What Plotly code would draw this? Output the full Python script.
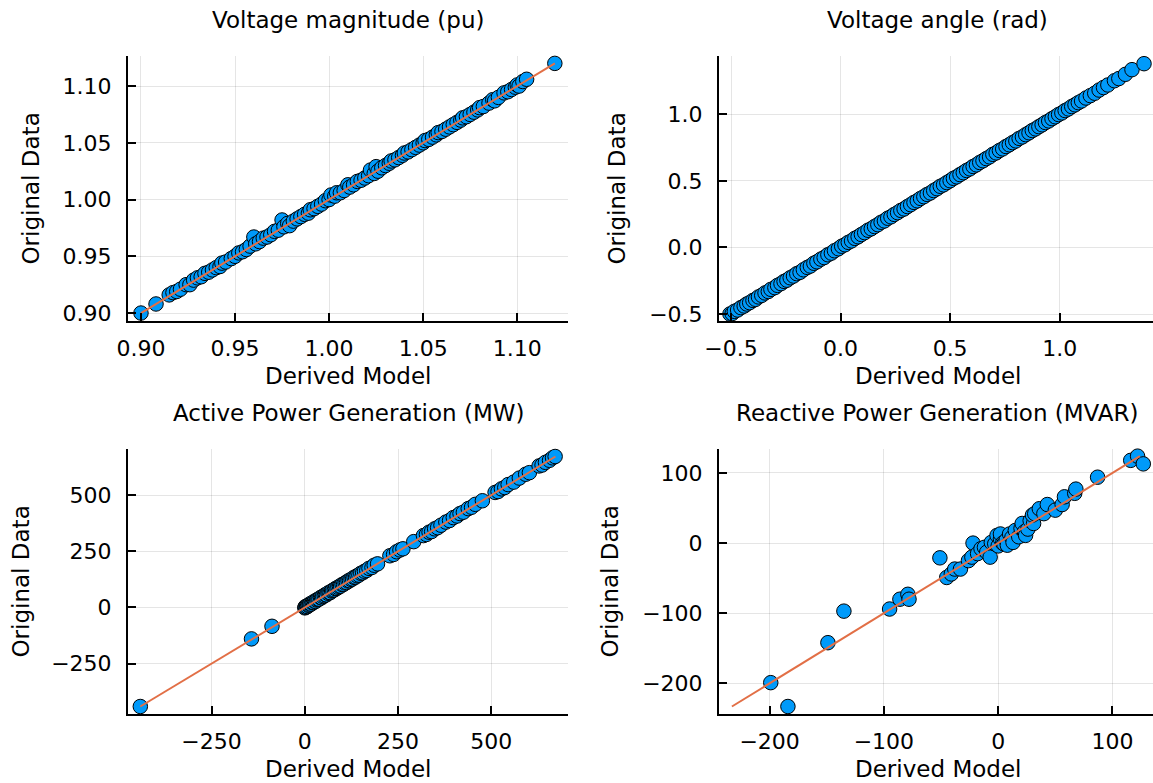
import plotly.graph_objects as go

# ---------------- data ----------------
vm_derived = [0.900, 0.908, 0.915, 0.917, 0.919, 0.921, 0.924, 0.926, 0.928, 0.930,
              0.932, 0.934, 0.936, 0.938, 0.940, 0.942, 0.943, 0.945, 0.948, 0.950,
              0.952, 0.954, 0.956, 0.958, 0.960, 0.961, 0.963, 0.965, 0.967, 0.969,
              0.971, 0.973, 0.975, 0.976, 0.978, 0.979, 0.981, 0.983, 0.985, 0.987,
              0.989, 0.990, 0.992, 0.994, 0.996, 0.998, 1.000, 1.001, 1.003, 1.004,
              1.006, 1.008, 1.010, 1.011, 1.013, 1.015, 1.017, 1.019, 1.021, 1.022,
              1.024, 1.025, 1.026, 1.028, 1.030, 1.032, 1.033, 1.035, 1.037, 1.039,
              1.040, 1.042, 1.044, 1.046, 1.048, 1.050, 1.051, 1.053, 1.055, 1.057,
              1.058, 1.060, 1.062, 1.064, 1.066, 1.068, 1.070, 1.071, 1.073, 1.075,
              1.077, 1.079, 1.080, 1.082, 1.085, 1.087, 1.088, 1.090, 1.093, 1.095,
              1.097, 1.099, 1.100, 1.101, 1.103, 1.105, 1.120]
vm_original = [0.900, 0.908, 0.916, 0.918, 0.919, 0.921, 0.925, 0.925, 0.929, 0.931,
               0.932, 0.935, 0.936, 0.938, 0.940, 0.941, 0.944, 0.945, 0.948, 0.950,
               0.953, 0.954, 0.956, 0.959, 0.967, 0.961, 0.963, 0.966, 0.967, 0.969,
               0.972, 0.973, 0.982, 0.976, 0.979, 0.977, 0.981, 0.983, 0.985, 0.987,
               0.988, 0.991, 0.992, 0.994, 0.996, 0.999, 1.000, 1.004, 1.003, 1.006,
               1.006, 1.008, 1.013, 1.011, 1.013, 1.016, 1.017, 1.019, 1.021, 1.026,
               1.023, 1.029, 1.025, 1.028, 1.030, 1.032, 1.034, 1.035, 1.037, 1.039,
               1.041, 1.042, 1.044, 1.046, 1.048, 1.050, 1.052, 1.053, 1.055, 1.057,
               1.059, 1.060, 1.062, 1.064, 1.066, 1.068, 1.070, 1.072, 1.073, 1.075,
               1.077, 1.079, 1.081, 1.082, 1.085, 1.088, 1.087, 1.090, 1.094, 1.095,
               1.097, 1.099, 1.101, 1.100, 1.104, 1.106, 1.120]

va_derived = [-0.505, -0.495, -0.485, -0.470, -0.455, -0.440, -0.428, -0.415, -0.400, -0.388,
              -0.375, -0.360, -0.345, -0.330, -0.318, -0.300, -0.288, -0.272, -0.258, -0.245,
              -0.230, -0.215, -0.200, -0.185, -0.170, -0.152, -0.138, -0.122, -0.108, -0.090,
              -0.075, -0.058, -0.042, -0.028, -0.010, 0.005, 0.020, 0.035, 0.050, 0.065,
              0.080, 0.095, 0.110, 0.125, 0.140, 0.155, 0.170, 0.185, 0.200, 0.215,
              0.230, 0.245, 0.260, 0.275, 0.290, 0.305, 0.320, 0.335, 0.350, 0.365,
              0.380, 0.395, 0.410, 0.425, 0.440, 0.455, 0.470, 0.485, 0.500, 0.515,
              0.530, 0.545, 0.560, 0.575, 0.590, 0.605, 0.620, 0.635, 0.650, 0.665,
              0.680, 0.695, 0.710, 0.725, 0.740, 0.755, 0.770, 0.785, 0.800, 0.815,
              0.830, 0.845, 0.860, 0.875, 0.890, 0.905, 0.920, 0.935, 0.950, 0.965,
              0.980, 0.995, 1.010, 1.025, 1.040, 1.055, 1.070, 1.085, 1.100, 1.120,
              1.140, 1.160, 1.180, 1.200, 1.220, 1.250, 1.270, 1.300, 1.330, 1.385]
va_original = [-0.500, -0.497, -0.480, -0.470, -0.452, -0.440, -0.425, -0.415, -0.398, -0.390,
               -0.372, -0.360, -0.342, -0.331, -0.315, -0.302, -0.285, -0.272, -0.255, -0.246,
               -0.228, -0.215, -0.197, -0.187, -0.168, -0.150, -0.140, -0.119, -0.108, -0.088,
               -0.076, -0.055, -0.043, -0.025, -0.010, 0.009, 0.020, 0.038, 0.049, 0.068,
               0.080, 0.097, 0.111, 0.129, 0.140, 0.157, 0.171, 0.189, 0.199, 0.219,
               0.230, 0.248, 0.261, 0.278, 0.289, 0.307, 0.321, 0.338, 0.350, 0.368,
               0.381, 0.398, 0.409, 0.427, 0.441, 0.459, 0.470, 0.487, 0.501, 0.519,
               0.530, 0.547, 0.561, 0.578, 0.590, 0.608, 0.620, 0.638, 0.651, 0.667,
               0.680, 0.699, 0.710, 0.728, 0.740, 0.758, 0.771, 0.787, 0.800, 0.819,
               0.830, 0.847, 0.861, 0.878, 0.890, 0.907, 0.921, 0.938, 0.950, 0.967,
               0.981, 0.998, 1.010, 1.028, 1.040, 1.058, 1.071, 1.087, 1.100, 1.122,
               1.140, 1.158, 1.182, 1.201, 1.220, 1.252, 1.268, 1.300, 1.335, 1.380]

pg_derived = [-441, -143, -88, 0, 1, 3, 5, 7, 9, 12, 14, 17, 20, 23, 26, 29, 32, 35, 38, 42,
              45, 48, 52, 55, 58, 62, 65, 68, 72, 75, 79, 82, 86, 89, 93, 96, 100, 104, 108, 112,
              116, 120, 124, 128, 132, 136, 140, 145, 150, 155, 160, 166, 172, 180, 186, 195,
              228, 238, 246, 255, 263, 292, 318, 326, 333, 340, 348, 356, 365, 378, 388, 398,
              408, 416, 425, 438, 447, 457, 476, 510, 518, 527, 536, 545, 560, 575, 592, 602,
              628, 636, 645, 656, 664, 671]
pg_original = [-441, -140, -84, -2, 3, 1, 6, 4, 10, 11, 16, 15, 21, 22, 28, 27, 33, 36, 37, 44,
               43, 49, 52, 57, 56, 63, 67, 66, 73, 76, 78, 84, 85, 90, 94, 95, 102, 103, 109, 111,
               118, 119, 125, 127, 134, 135, 141, 144, 152, 154, 161, 165, 174, 178, 188, 194,
               230, 236, 248, 256, 261, 293, 320, 325, 335, 338, 350, 355, 366, 380, 387, 400,
               407, 418, 424, 440, 446, 459, 475, 512, 516, 528, 534, 547, 558, 576, 593, 600,
               630, 634, 646, 655, 666, 672]

qg_derived = [-199, -184, -149, -135, -95, -86, -79, -78, -51, -45, -41, -38, -33, -26, -22,
              -23, -18, -15, -12, -10, -7, -6, -3, -1, 0, 2, 2, 4, 5, 7, 8, 10, 12, 13, 15,
              18, 20, 21, 23, 24, 26, 28, 31, 30, 32, 36, 40, 43, 50, 56, 58, 67, 68, 87,
              116, 122, 127]
qg_original = [-199, -233, -142, -97, -94, -80, -73, -80, -21, -49, -44, -37, -37, -25, 0,
               -20, -15, -8, -6, -13, -20, 1, -1, 11, -4, 6, 13, 0, -1, 4, -3, 13, 8, 1, 18,
               9, 21, 28, 16, 11, 20, 32, 28, 40, 42, 49, 42, 55, 47, 55, 66, 71, 77, 94,
               118, 124, 113]

titles = ["Voltage magnitude (pu)", "Voltage angle (rad)",
          "Active Power Generation (MW)", "Reactive Power Generation (MVAR)"]
x_label = "Derived Model"
y_label = "Original Data"

vm_ticks = [0.90, 0.95, 1.00, 1.05, 1.10]
vm_ticktext = ["0.90", "0.95", "1.00", "1.05", "1.10"]
va_ticks = [-0.5, 0.0, 0.5, 1.0]
va_ticktext = ["\u22120.5", "0.0", "0.5", "1.0"]
pg_ticks = [-250, 0, 250, 500]
pg_ticktext = ["\u2212250", "0", "250", "500"]
qg_ticks = [-200, -100, 0, 100]
qg_ticktext = ["\u2212200", "\u2212100", "0", "100"]

# ---------------- styling / layout ----------------
W, H = 1153, 783
BLUE = "#009AFA"
ORANGE = "#E26F46"
FONT = "DejaVu Sans"
TICK_SIZE = 22
TEXT_SIZE = 23

# plot-area pixel boxes (left, right, top, bottom)
boxes = [(128, 568, 56, 321), (719, 1153, 56, 321),
         (128, 568, 449, 714), (719, 1153, 449, 714)]
xranges = [[0.8931, 1.127], [-0.555, 1.426], [-474, 705.5], [-244.3, 135.5]]
yranges = [[0.893, 1.1265], [-0.5526, 1.4377], [-474.4, 705.4], [-243.7, 134.2]]
ylabel_x = [31, 617, 20, 609]

panels = [
    (vm_derived, vm_original, True, vm_ticks, vm_ticktext),
    (va_derived, va_original, False, va_ticks, va_ticktext),
    (pg_derived, pg_original, True, pg_ticks, pg_ticktext),
    (qg_derived, qg_original, True, qg_ticks, qg_ticktext),
]

fig = go.Figure()
annotations = []
for i, (xs, ys, with_line, tv, tt) in enumerate(panels):
    n = "" if i == 0 else str(i + 1)
    xa, ya = "x" + n, "y" + n
    fig.add_trace(go.Scatter(
        x=xs, y=ys, mode="markers", xaxis=xa, yaxis=ya,
        marker=dict(size=14.5, color=BLUE, line=dict(color="black", width=1)),
        cliponaxis=False, showlegend=False, hoverinfo="skip"))
    if with_line:
        lo, hi = min(ys), max(ys)
        fig.add_trace(go.Scatter(
            x=[lo, hi], y=[lo, hi], mode="lines", xaxis=xa, yaxis=ya,
            line=dict(color=ORANGE, width=2), cliponaxis=False,
            showlegend=False, hoverinfo="skip"))

    l, r, t, b = boxes[i]
    common = dict(showline=True, linecolor="black", linewidth=2, mirror=False,
                  showgrid=True, gridcolor="rgba(0,0,0,0.1)", gridwidth=1,
                  zeroline=False, ticks="inside", ticklen=8, tickwidth=2,
                  tickcolor="black", tickfont=dict(family=FONT, size=TICK_SIZE, color="black"),
                  automargin=False, fixedrange=True)
    fig.layout["xaxis" + n] = dict(
        common, domain=[l / W, r / W], range=xranges[i], anchor=ya,
        tickmode="array", tickvals=tv, ticktext=tt, ticklabelstandoff=7)
    fig.layout["yaxis" + n] = dict(
        common, domain=[1 - b / H, 1 - t / H], range=yranges[i], anchor=xa,
        tickmode="array", tickvals=tv, ticktext=tt, ticklabelstandoff=10)

    cx = (l + r) / 2 if i % 2 == 0 else (719 + 1156) / 2
    ty = 20 if i < 2 else 413
    gy = 376 if i < 2 else 769
    annotations.append(dict(text=titles[i], x=cx / W, y=1 - ty / H, xref="paper", yref="paper",
                            xanchor="center", yanchor="middle", showarrow=False,
                            font=dict(family=FONT, size=TEXT_SIZE, color="black")))
    annotations.append(dict(text=x_label, x=cx / W, y=1 - gy / H, xref="paper", yref="paper",
                            xanchor="center", yanchor="middle", showarrow=False,
                            font=dict(family=FONT, size=TEXT_SIZE, color="black")))
    annotations.append(dict(text=y_label, x=ylabel_x[i] / W, y=1 - ((t + b) / 2) / H,
                            xref="paper", yref="paper", textangle=-90,
                            xanchor="center", yanchor="middle", showarrow=False,
                            font=dict(family=FONT, size=TEXT_SIZE, color="black")))

fig.update_layout(
    width=W, height=H, margin=dict(l=0, r=0, t=0, b=0),
    paper_bgcolor="white", plot_bgcolor="white",
    annotations=annotations, showlegend=False,
    font=dict(family=FONT, color="black"),
)

fig.write_html("out.html", config={"displayModeBar": False})
